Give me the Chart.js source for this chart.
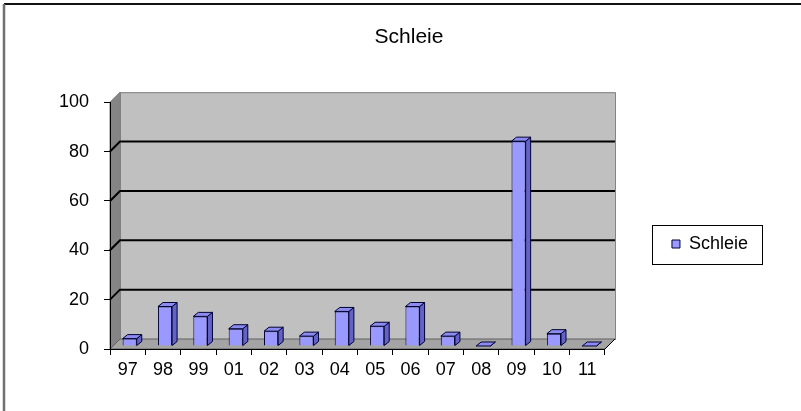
<!DOCTYPE html>
<html>
<head>
<meta charset="utf-8">
<script src="https://cdn.jsdelivr.net/npm/chart.js@4/dist/chart.umd.min.js"></script>
<style>
  html, body { margin: 0; padding: 0; background: #fff; }
  #wrap { width: 801px; height: 411px; }
</style>
</head>
<body>
<div id="wrap"><canvas id="canvas1" width="801" height="411"></canvas></div>
<script>
const years = ['97', '98', '99', '01', '02', '03', '04', '05', '06', '07', '08', '09', '10', '11'];
const schleie = [3, 16, 12, 7, 6, 4, 14, 8, 16, 4, 0, 83, 5, 0];
const yTicks = [0, 20, 40, 60, 80, 100];

const FONT = "'Liberation Sans', Arial, sans-serif";
const WALL = 10;   // depth of the back wall
const BAR_DX = 2, BAR_DY = -3;   // bars stand in the middle of the floor
const SIDE_DX = 5, SIDE_DY = -4; // depth of each bar

// grey walls, floor and back gridlines of the excel 3d look
const walls = {
  id: 'walls',
  beforeDraw(chart) {
    const ctx = chart.ctx;
    const a = chart.chartArea;
    const y = chart.scales.y;
    ctx.save();
    // frame around the whole picture (cut off at right and bottom)
    ctx.strokeStyle = '#111';
    ctx.lineWidth = 2;
    ctx.beginPath(); ctx.moveTo(4, 4); ctx.lineTo(801, 4); ctx.stroke();
    ctx.strokeStyle = '#707070';
    ctx.lineWidth = 2.5;
    ctx.beginPath(); ctx.moveTo(4, 4); ctx.lineTo(4, 411); ctx.stroke();

    ctx.lineWidth = 1;
    // back wall
    ctx.fillStyle = '#c0c0c0';
    ctx.fillRect(a.left + WALL, a.top - WALL, a.right - a.left, a.bottom - a.top);
    ctx.strokeStyle = '#808080';
    ctx.strokeRect(a.left + WALL + 0.5, a.top - WALL + 0.5, a.right - a.left, a.bottom - a.top);
    // side wall
    ctx.fillStyle = '#858585';
    ctx.beginPath();
    ctx.moveTo(a.left, a.top);
    ctx.lineTo(a.left + WALL, a.top - WALL);
    ctx.lineTo(a.left + WALL, a.bottom - WALL);
    ctx.lineTo(a.left, a.bottom);
    ctx.closePath();
    ctx.fill();
    ctx.stroke();
    // floor
    ctx.fillStyle = '#a4a4a4';
    ctx.beginPath();
    ctx.moveTo(a.left, a.bottom);
    ctx.lineTo(a.left + WALL, a.bottom - WALL);
    ctx.lineTo(a.right + WALL, a.bottom - WALL);
    ctx.lineTo(a.right, a.bottom);
    ctx.closePath();
    ctx.fill();
    ctx.strokeStyle = '#606060';
    ctx.stroke();
    ctx.strokeStyle = '#000';
    ctx.beginPath();
    ctx.moveTo(a.right, a.bottom);
    ctx.lineTo(a.right + WALL, a.bottom - WALL);
    ctx.stroke();

    // gridlines on side and back wall
    ctx.strokeStyle = '#000';
    ctx.lineWidth = 2;
    yTicks.forEach(v => {
      if (v === 0 || v === 100) return;
      const py = y.getPixelForValue(v);
      ctx.beginPath();
      ctx.moveTo(a.left, py);
      ctx.lineTo(a.left + WALL, py - WALL);
      ctx.lineTo(a.right + WALL, py - WALL);
      ctx.stroke();
    });
    ctx.restore();
  },
  beforeDatasetsDraw(chart) {
    chart.ctx.save();
    chart.ctx.translate(BAR_DX, BAR_DY);
  },
  afterDatasetsDraw(chart) {
    const ctx = chart.ctx;
    const meta = chart.getDatasetMeta(0);
    ctx.lineWidth = 1;
    ctx.strokeStyle = '#000033';
    meta.data.forEach(bar => {
      const p = bar.getProps(['x', 'y', 'base', 'width'], true);
      const l = p.x - p.width / 2, r = p.x + p.width / 2;
      const t = Math.min(p.y, p.base), b = Math.max(p.y, p.base);
      // side
      ctx.fillStyle = '#6262c8';
      ctx.beginPath();
      ctx.moveTo(r, t);
      ctx.lineTo(r + SIDE_DX, t + SIDE_DY);
      ctx.lineTo(r + SIDE_DX, b + SIDE_DY);
      ctx.lineTo(r, b);
      ctx.closePath();
      ctx.fill();
      ctx.stroke();
      // top
      ctx.fillStyle = '#8c8cf0';
      ctx.beginPath();
      ctx.moveTo(l, t);
      ctx.lineTo(l + SIDE_DX, t + SIDE_DY);
      ctx.lineTo(r + SIDE_DX, t + SIDE_DY);
      ctx.lineTo(r, t);
      ctx.closePath();
      ctx.fill();
      ctx.stroke();
    });
    ctx.restore();
  }
};

// thin box round the legend
const legendBox = {
  id: 'legendBox',
  afterDraw(chart) {
    const hb = chart.legend.legendHitBoxes[0];
    if (!hb) return;
    const ctx = chart.ctx;
    const cy = hb.top + hb.height / 2;
    ctx.save();
    ctx.strokeStyle = '#000';
    ctx.lineWidth = 1;
    ctx.strokeRect(Math.round(hb.left - 20) + 0.5, Math.round(cy - 19) + 0.5, Math.round(hb.width + 34), 39);
    ctx.restore();
  }
};

Chart.defaults.font.family = FONT;
Chart.defaults.color = '#000';

new Chart(document.getElementById('canvas1'), {
  type: 'bar',
  data: {
    labels: years,
    datasets: [{
      label: 'Schleie',
      data: schleie,
      backgroundColor: '#9999ff',
      borderColor: '#000033',
      borderWidth: 1,
      barPercentage: 0.4,
      categoryPercentage: 1
    }]
  },
  options: {
    responsive: false,
    animation: false,
    layout: { padding: { left: 60, right: 43, top: 0, bottom: 25 } },
    plugins: {
      title: {
        display: true,
        text: 'Schleie',
        color: '#000',
        font: { size: 21, weight: 'normal' },
        padding: { top: 25, bottom: 52 }
      },
      legend: {
        position: 'right',
        title: {
          // empty title only pushes the entry down to where excel put it
          display: true,
          text: ' ',
          font: { size: 2, lineHeight: 1 },
          padding: { top: 50, bottom: 50 }
        },
        labels: {
          boxWidth: 8,
          boxHeight: 8,
          padding: 67,
          color: '#000',
          font: { size: 18 }
        }
      },
      tooltip: { enabled: false }
    },
    scales: {
      x: {
        afterFit(scale) { scale.height = 37; },
        grid: { offset: true, drawOnChartArea: false, drawTicks: true, tickLength: 6, color: '#000' },
        border: { display: true, color: '#000', width: 1 },
        ticks: { font: { size: 18 }, padding: 4, maxRotation: 0 }
      },
      y: {
        min: 0,
        max: 100,
        afterFit(scale) { scale.width = 50; },
        afterBuildTicks(scale) { scale.ticks = yTicks.map(v => ({ value: v })); },
        grid: { drawOnChartArea: false, drawTicks: true, tickLength: 6, color: '#000' },
        border: { display: true, color: '#000', width: 1 },
        ticks: { font: { size: 18 }, padding: 15 }
      }
    }
  },
  plugins: [walls, legendBox]
});
</script>
</body>
</html>
